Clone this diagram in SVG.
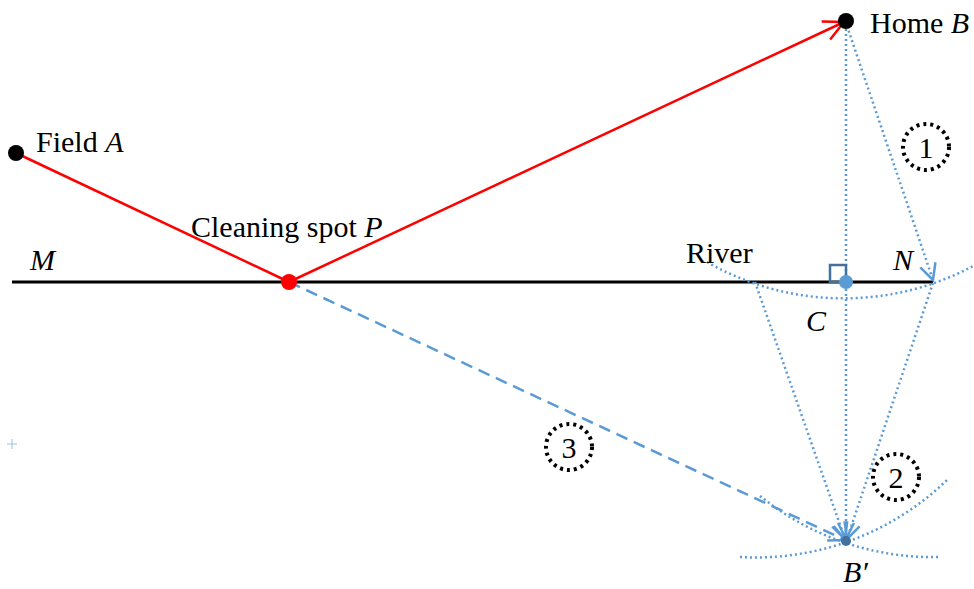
<svg xmlns="http://www.w3.org/2000/svg" width="974" height="589" viewBox="0 0 974 589">
<style>
.txt{font-family:"Liberation Serif","DejaVu Serif",serif;font-size:30px;fill:#000}
.it{font-style:italic}
.dot{stroke:#5B9BD5;stroke-width:2.5;stroke-dasharray:2 3;fill:none}
.ring{stroke:#000;stroke-width:4;stroke-dasharray:3 4;fill:none}
</style>
<defs>
<marker id="ab" viewBox="0 0 20 20" refX="18" refY="10" markerWidth="20" markerHeight="20" markerUnits="userSpaceOnUse" orient="auto">
<path d="M2,2 L18,10 L2,18" fill="none" stroke="#5B9BD5" stroke-width="2.5"/>
</marker>
<marker id="ar" viewBox="0 0 24 24" refX="22" refY="12" markerWidth="24" markerHeight="24" markerUnits="userSpaceOnUse" orient="auto">
<path d="M2,2 L22,12 L2,22" fill="none" stroke="#F00" stroke-width="2.5"/>
</marker>
</defs>
<rect width="974" height="589" fill="#fff"/>
<g id="connectors">
<line x1="12" y1="282" x2="933" y2="282" stroke="#000" stroke-width="3"/>
<path class="dot" d="M707,262 A275,275 0 0 0 975,265"/>
<path class="dot" d="M740,557 A275,275 0 0 0 947,480"/>
<path class="dot" d="M760,496 A275,275 0 0 0 940,557"/>
<line class="dot" x1="846" y1="24" x2="846" y2="539" marker-end="url(#ab)"/>
<line class="dot" x1="847" y1="26" x2="933" y2="280" marker-end="url(#ab)"/>
<line class="dot" x1="755" y1="282" x2="845" y2="539" marker-end="url(#ab)"/>
<line class="dot" x1="933" y1="283" x2="847" y2="539" marker-end="url(#ab)"/>
<line x1="289" y1="282" x2="845" y2="540" stroke="#5B9BD5" stroke-width="2.5" stroke-dasharray="12 7" marker-end="url(#ab)"/>
<line x1="16" y1="153" x2="289" y2="282" stroke="#F00" stroke-width="2.5"/>
<line x1="289" y1="282" x2="844" y2="22" stroke="#F00" stroke-width="2.5" marker-end="url(#ar)"/>
</g>
<g id="square"><rect x="830" y="265" width="16" height="17" fill="none" stroke="#41719C" stroke-width="2.5"/></g>
<g id="fieldA"><circle cx="16" cy="153" r="8" fill="#000"/><text class="txt" x="36" y="152">Field <tspan class="it">A</tspan></text></g>
<g id="homeB"><circle cx="846" cy="21" r="8" fill="#000"/><text class="txt" x="870" y="33">Home <tspan class="it">B</tspan></text></g>
<g id="spotP"><circle cx="289" cy="282" r="8" fill="#F00"/><text class="txt" x="191" y="237">Cleaning spot <tspan class="it">P</tspan></text></g>
<g id="M"><text class="txt it" x="30" y="270">M</text></g>
<g id="N"><text class="txt it" x="893" y="270">N</text></g>
<g id="river"><text class="txt" x="686" y="263">River</text></g>
<g id="C"><circle cx="846" cy="282" r="7" fill="#5B9BD5"/><text class="txt it" x="806" y="331">C</text></g>
<g id="Bprime"><circle cx="846" cy="541" r="5" fill="#41719C"/><text class="txt it" x="843" y="582">B′</text></g>
<g id="c1"><circle class="ring" cx="926" cy="147" r="23"/><text class="txt" x="926" y="158" text-anchor="middle">1</text></g>
<g id="c2"><circle class="ring" cx="896" cy="477" r="23"/><text class="txt" x="896" y="488" text-anchor="middle">2</text></g>
<g id="c3"><circle class="ring" cx="569" cy="447" r="23"/><text class="txt" x="569" y="458" text-anchor="middle">3</text></g>
<g id="cross"><path d="M12,439 V449 M7,444 H17" stroke="#5B9BD5" stroke-width="1" opacity="0.6"/></g>
</svg>
